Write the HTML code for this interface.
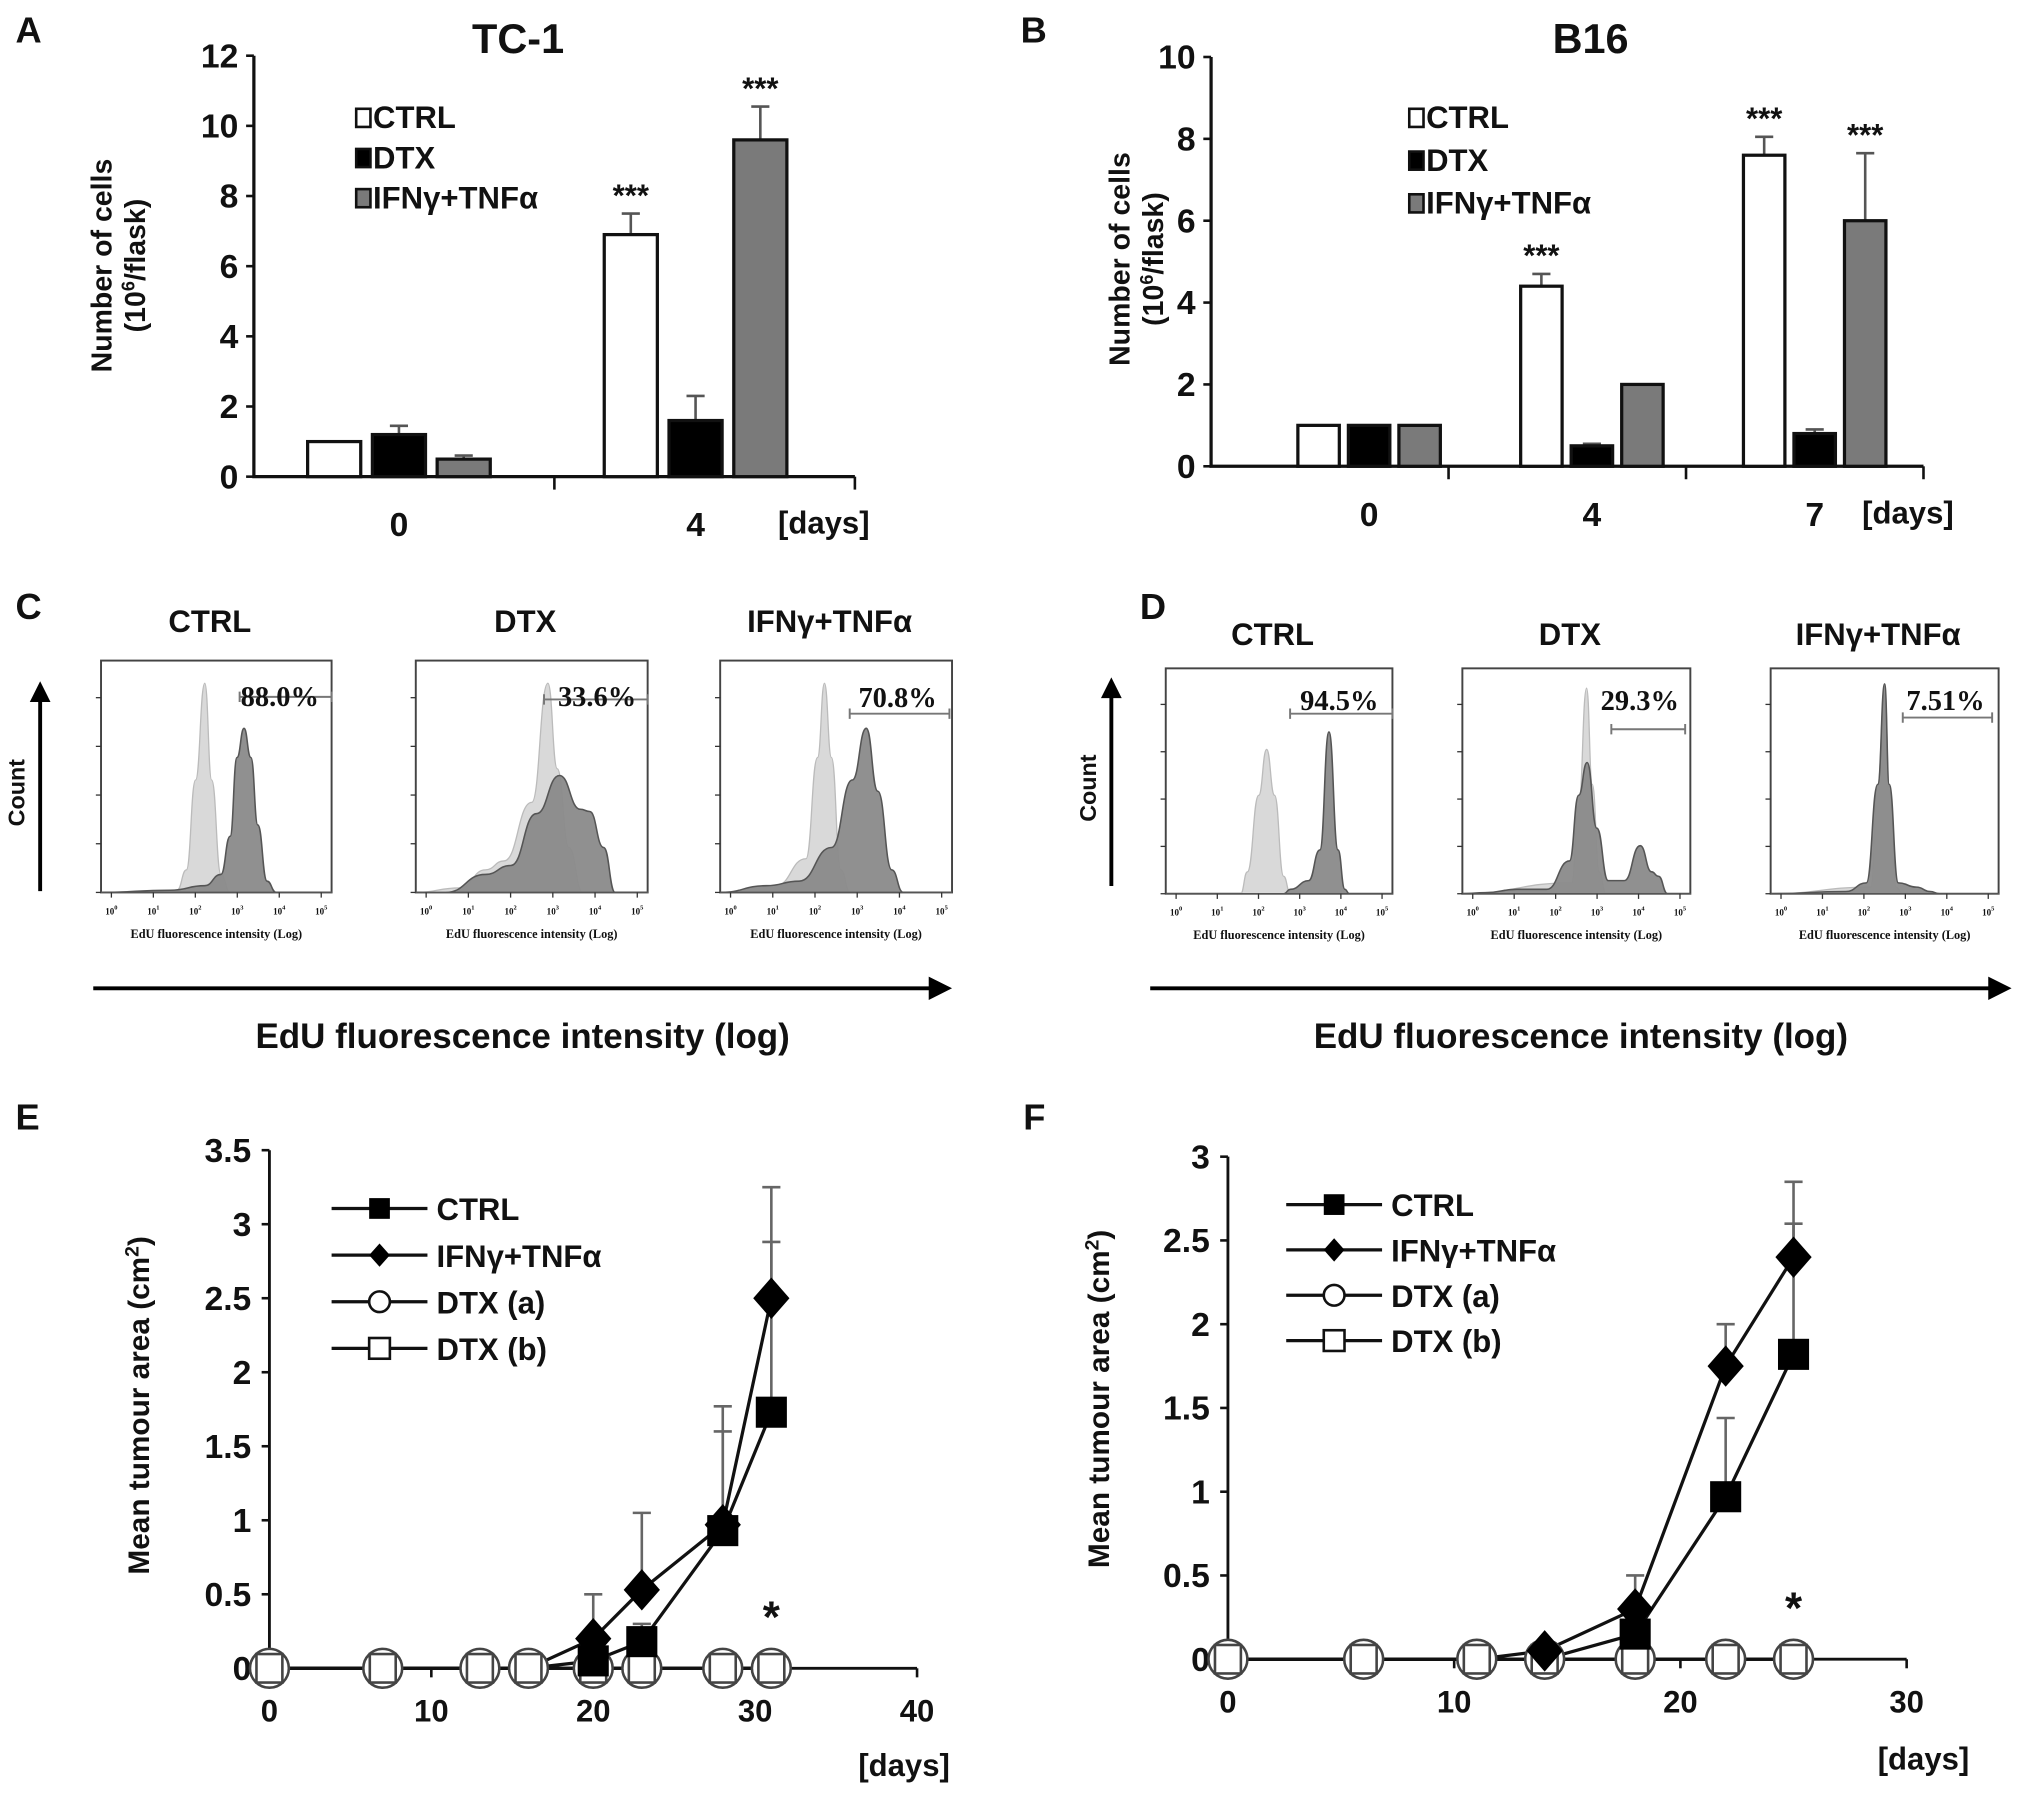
<!DOCTYPE html>
<html><head><meta charset="utf-8"><title>Figure</title>
<style>
html,body{margin:0;padding:0;background:#fff;}
svg{display:block;}
text{font-family:"Liberation Sans Narrow","Liberation Sans",sans-serif;font-weight:bold;fill:#111;}
.serif{font-family:"Liberation Serif",serif;}
.wide{font-family:"Liberation Sans",sans-serif;}
</style></head>
<body>
<svg id="fig" xmlns="http://www.w3.org/2000/svg" width="2031" height="1803" viewBox="0 0 1568 1392" preserveAspectRatio="none">
<rect x="0" y="0" width="1568" height="1392" fill="#fff"/>
<text class="wide" x="12" y="33" font-size="28">A</text>
<text class="wide" x="788" y="33" font-size="28">B</text>
<text class="wide" x="12" y="478" font-size="28">C</text>
<text class="wide" x="880" y="478" font-size="28">D</text>
<text class="wide" x="12" y="872" font-size="28">E</text>
<text class="wide" x="790" y="872" font-size="28">F</text>
<text x="400" y="41" font-size="32" text-anchor="middle">TC-1</text>
<text x="1228" y="41" font-size="32" text-anchor="middle">B16</text>
<g id="gA"></g>
<g id="gB"></g>
<g id="gC"></g>
<g id="gD"></g>
<g id="gE"></g>
<g id="gF"></g>
</svg>
<script>
// ---------- Panel A data ----------
const aDays = ["0", "4"];
const aCtrl = [1.0, 6.9];
const aDtx = [1.2, 1.6];
const aIfn = [0.5, 9.6];
const aCtrlErr = [0.0, 0.6];
const aDtxErr = [0.25, 0.7];
const aIfnErr = [0.1, 0.95];
const aSig = ["", "***"];
const aSigIfn = ["", "***"];
const aTicks = [0, 2, 4, 6, 8, 10, 12];
// ---------- Panel B data ----------
const bDays = ["0", "4", "7"];
const bCtrl = [1.0, 4.4, 7.6];
const bDtx = [1.0, 0.5, 0.8];
const bIfn = [1.0, 2.0, 6.0];
const bCtrlErr = [0.0, 0.3, 0.45];
const bDtxErr = [0.0, 0.05, 0.1];
const bIfnErr = [0.0, 0.0, 1.65];
const bSig = ["", "***", "***"];
const bSigIfn = ["", "", "***"];
const bTicks = [0, 2, 4, 6, 8, 10];
// ---------- Panel E data ----------
const eDays = [0, 7, 13, 16, 20, 23, 28, 31];
const eCtrl = [0, 0, 0, 0, 0.05, 0.18, 0.93, 1.73];
const eCtrlErr = [0, 0, 0, 0, 0, 0.12, 0.67, 1.15];
const eIfn = [0, 0, 0, 0, 0.2, 0.53, 0.97, 2.5];
const eIfnErr = [0, 0, 0, 0, 0.3, 0.52, 0.8, 0.75];
const eDtxA = [0, 0, 0, 0, 0, 0, 0, 0];
const eDtxB = [0, 0, 0, 0, 0, 0, 0, 0];
const eYTicks = [0, 0.5, 1, 1.5, 2, 2.5, 3, 3.5];
const eXTicks = [0, 10, 20, 30, 40];
// ---------- Panel F data ----------
const fDays = [0, 6, 11, 14, 18, 22, 25];
const fCtrl = [0, 0, 0, 0, 0.15, 0.97, 1.82];
const fCtrlErr = [0, 0, 0, 0, 0, 0.47, 0.78];
const fIfn = [0, 0, 0, 0.05, 0.3, 1.75, 2.4];
const fIfnErr = [0, 0, 0, 0, 0.2, 0.25, 0.45];
const fDtxA = [0, 0, 0, 0, 0, 0, 0];
const fDtxB = [0, 0, 0, 0, 0, 0, 0];
const fYTicks = [0, 0.5, 1, 1.5, 2, 2.5, 3];
const fXTicks = [0, 10, 20, 30];
// ---------- Histogram data: [x fraction, height fraction] ----------
const cTitles = ["CTRL", "DTX", "IFNγ+TNFα"];
const cPct = ["88.0%", "33.6%", "70.8%"];
const cLight = [
  [[0,0],[0.33,0.01],[0.37,0.1],[0.41,0.5],[0.45,0.93],[0.48,0.5],[0.52,0.08],[0.56,0]],
  [[0,0],[0.19,0.02],[0.3,0.1],[0.38,0.14],[0.5,0.4],[0.57,0.93],[0.61,0.55],[0.66,0.2],[0.72,0]],
  [[0,0],[0.24,0.03],[0.37,0.15],[0.42,0.6],[0.45,0.93],[0.48,0.6],[0.52,0.1],[0.56,0]]
];
const cDark = [
  [[0,0],[0.3,0.01],[0.45,0.03],[0.52,0.08],[0.56,0.25],[0.59,0.6],[0.62,0.73],[0.65,0.6],[0.68,0.3],[0.72,0.05],[0.76,0]],
  [[0,0],[0.13,0],[0.3,0.08],[0.41,0.12],[0.52,0.35],[0.62,0.52],[0.71,0.37],[0.75,0.36],[0.81,0.2],[0.86,0]],
  [[0,0],[0.2,0.03],[0.34,0.05],[0.48,0.2],[0.57,0.5],[0.63,0.73],[0.68,0.45],[0.74,0.1],[0.79,0]]
];
const dPct = ["94.5%", "29.3%", "7.51%"];
const dLight = [
  [[0,0],[0.33,0],[0.36,0.1],[0.41,0.45],[0.445,0.66],[0.48,0.45],[0.52,0.08],[0.55,0]],
  [[0,0],[0.48,0.05],[0.51,0.4],[0.545,0.94],[0.57,0.5],[0.6,0.1],[0.63,0]],
  [[0,0],[0.44,0.03],[0.47,0.5],[0.5,0.95],[0.52,0.5],[0.55,0.03],[0.58,0]]
];
const dDark = [
  [[0,0],[0.52,0],[0.55,0.02],[0.63,0.06],[0.68,0.2],[0.72,0.74],[0.76,0.2],[0.79,0.02],[0.81,0]],
  [[0,0],[0.1,0.005],[0.24,0.02],[0.37,0.02],[0.47,0.15],[0.51,0.45],[0.547,0.6],[0.59,0.3],[0.64,0.06],[0.71,0.06],[0.78,0.22],[0.83,0.1],[0.86,0.08],[0.9,0]],
  [[0,0],[0.33,0.01],[0.42,0.05],[0.47,0.5],[0.5,0.96],[0.52,0.5],[0.56,0.05],[0.64,0.03],[0.7,0.01],[0.74,0]]
];

const NS = "http://www.w3.org/2000/svg";
function mk(tag, attrs, parent) {
  const el = document.createElementNS(NS, tag);
  for (const k in attrs) el.setAttribute(k, attrs[k]);
  parent.appendChild(el);
  return el;
}
function txt(parent, x, y, s, size, anchor, cls) {
  const t = mk("text", {x: x, y: y, "font-size": size, "text-anchor": anchor || "start"}, parent);
  if (cls) t.setAttribute("class", cls);
  t.textContent = s;
  return t;
}

function barChart(g, cfg) {
  const y = v => cfg.y0 - (v / cfg.ymax) * (cfg.y0 - cfg.ytop);
  const ax = mk("path", {d: `M${cfg.x0} ${cfg.ytop} V${cfg.y0} H${cfg.x1}`, stroke: "#111", "stroke-width": 2.5, fill: "none"}, g);
  
  
  cfg.ticks.forEach(t => {
    const tk = mk("line", {x1: cfg.x0 - 6, x2: cfg.x0, y1: y(t), y2: y(t), stroke: "#111", "stroke-width": 2}, g);
    
    
    const tl = txt(g, cfg.x0 - 12, y(t) + 9, String(t), 26, "end");
    
    
  });
  const n = cfg.days.length;
  for (let i = 1; i <= n; i++) {
    const sx = cfg.x0 + (cfg.x1 - cfg.x0) * i / n;
    const sep = mk("line", {x1: sx, x2: sx, y1: cfg.y0, y2: cfg.y0 + 10, stroke: "#111", "stroke-width": 2}, g);
    
    
  }
  const series = [
    {v: cfg.ctrl, e: cfg.ctrlErr, fill: "#fff", name: "bar-ctrl"},
    {v: cfg.dtx, e: cfg.dtxErr, fill: "#000", name: "bar-dtx"},
    {v: cfg.ifn, e: cfg.ifnErr, fill: "#7a7a7a", name: "bar-ifn-tnf"}
  ];
  cfg.days.forEach((d, i) => {
    const cx = cfg.c0 + i * cfg.step;
    series.forEach((s, k) => {
      const bx = cx + (k - 1) * cfg.off - cfg.bw / 2;
      const top = y(s.v[i]);
      if (s.e[i] > 0) {
        const et = y(s.v[i] + s.e[i]);
        const el = mk("path", {d: `M${bx + cfg.bw / 2} ${top} V${et} M${bx + cfg.bw / 2 - 7} ${et} H${bx + cfg.bw / 2 + 7}`, stroke: "#555", "stroke-width": 2, fill: "none"}, g);
        
        
      }
      const r = mk("rect", {x: bx, y: top, width: cfg.bw, height: cfg.y0 - top, fill: s.fill, stroke: "#111", "stroke-width": 2.5}, g);
      
      
    });
    const sigs = [[cfg.sig[i], 0, cfg.ctrl[i] + cfg.ctrlErr[i]], [cfg.sigIfn[i], 2, cfg.ifn[i] + cfg.ifnErr[i]]];
    sigs.forEach(sg => {
      if (!sg[0]) return;
      const st = txt(g, cx + (sg[1] - 1) * cfg.off, y(sg[2]) - 6, sg[0], 24, "middle", "wide");
      
      
    });
    const dl = txt(g, cx, cfg.y0 + 46, d, 26, "middle");
    
    
  });
  const du = txt(g, cfg.daysX, cfg.y0 + 44, "[days]", 24, "middle");
  
  
  const yl = mk("text", {transform: `translate(${cfg.ylx},${cfg.yly}) rotate(-90)`, "text-anchor": "middle", "font-size": 22, class: "wide"}, g);
  
  
  yl.textContent = "Number of cells";
  const yl2 = mk("text", {transform: `translate(${cfg.ylx + 26},${cfg.yly}) rotate(-90)`, "text-anchor": "middle", "font-size": 22, class: "wide"}, g);
  
  
  yl2.innerHTML = '(10<tspan dy="-8" font-size="14">6</tspan><tspan dy="8">/flask)</tspan>';
  const leg = [["CTRL", "#fff"], ["DTX", "#000"], ["IFNγ+TNFα", "#7a7a7a"]];
  leg.forEach((l, k) => {
    const ly = cfg.legY + k * cfg.legDy;
    const sw = mk("rect", {x: cfg.legX, y: ly - 15, width: 11, height: 14, fill: l[1], stroke: "#111", "stroke-width": 2}, g);
    
    
    const lt = txt(g, cfg.legX + 13, ly, l[0], 24, "start");
    
    
  });
}
barChart(document.getElementById("gA"), {
  x0: 196, x1: 660, y0: 368, ytop: 43, ymax: 12, ticks: aTicks, days: aDays,
  ctrl: aCtrl, dtx: aDtx, ifn: aIfn, ctrlErr: aCtrlErr, dtxErr: aDtxErr, ifnErr: aIfnErr,
  sig: aSig, sigIfn: aSigIfn, c0: 308, step: 229, off: 50, bw: 41, daysX: 636,
  ylx: 86, yly: 205, legX: 275, legY: 99, legDy: 31
});
barChart(document.getElementById("gB"), {
  x0: 935, x1: 1485, y0: 360, ytop: 44, ymax: 10, ticks: bTicks, days: bDays,
  ctrl: bCtrl, dtx: bDtx, ifn: bIfn, ctrlErr: bCtrlErr, dtxErr: bDtxErr, ifnErr: bIfnErr,
  sig: bSig, sigIfn: bSigIfn, c0: 1057, step: 172, off: 39, bw: 32, daysX: 1473,
  ylx: 872, yly: 200, legX: 1088, legY: 99, legDy: 33
});

function histPanel(g, boxes, titles, pcts, lights, darks, gates, pctPos, arrow, titleY) {
  boxes.forEach((b, i) => {
    const X = f => b.x + f * b.w;
    const Y = f => b.y1 - f * (b.y1 - b.y0) * 0.97;
    const tt = txt(g, b.x + b.w / 2 - 5, titleY, titles[i], 24, "middle", "wide");
    
    
    const bx = mk("rect", {x: b.x, y: b.y0, width: b.w, height: b.y1 - b.y0, fill: "#fff", stroke: "#444", "stroke-width": 1.5}, g);
    
    
    const toPath = pts => {
      const P = pts.map(p => [X(p[0]), Y(p[1])]);
      let d = "M" + X(0) + " " + b.y1 + " L" + P[0][0].toFixed(1) + " " + P[0][1].toFixed(1);
      for (let k = 1; k < P.length; k++) {
        const a = P[k - 1], c = P[k];
        const mx = (a[0] + c[0]) / 2;
        d += ` C${mx.toFixed(1)} ${a[1].toFixed(1)} ${mx.toFixed(1)} ${c[1].toFixed(1)} ${c[0].toFixed(1)} ${c[1].toFixed(1)}`;
      }
      return d + " L" + X(1) + " " + b.y1 + " Z";
    };
    const lp = mk("path", {d: toPath(lights[i]), fill: "#d9d9d9", stroke: "#bbb", "stroke-width": 1}, g);
    
    
    const dp = mk("path", {d: toPath(darks[i]), fill: "#8a8a8a", "fill-opacity": 0.95, stroke: "#555", "stroke-width": 1.2}, g);
    
    
    for (let k = 0; k < 6; k++) {
      const tx = b.x + 8 + k * (b.w - 16) / 5;
      const tm = mk("line", {x1: tx, x2: tx, y1: b.y1, y2: b.y1 + 4, stroke: "#333", "stroke-width": 1}, g);
      
      
      const tl = mk("text", {x: tx, y: b.y1 + 17, "font-size": 7, "text-anchor": "middle", class: "serif"}, g);
      
      
      tl.innerHTML = '10<tspan dy="-4" font-size="5">' + k + '</tspan>';
    }
    for (let k = 0; k < 5; k++) {
      const ty = b.y1 - k * (b.y1 - b.y0) * 0.21;
      const ym = mk("line", {x1: b.x - 4, x2: b.x, y1: ty, y2: ty, stroke: "#333", "stroke-width": 1}, g);
      
      
    }
    const al = txt(g, b.x + b.w / 2, b.y1 + 35, "EdU fluorescence intensity (Log)", 9.5, "middle", "serif");
    
    
    const gl = gates[i];
    const gate = mk("path", {d: `M${gl[0]} ${gl[2]} H${gl[1]} M${gl[0]} ${gl[2] - 4} V${gl[2] + 4} M${gl[1]} ${gl[2] - 4} V${gl[2] + 4}`, stroke: "#777", "stroke-width": 1.5, fill: "none"}, g);
    
    
    const pt = txt(g, pctPos[i][0], pctPos[i][1], pcts[i], 22, "middle", "serif");
    
    
  });
  const ca = mk("path", {d: `M${arrow.cx} ${arrow.yb} V${arrow.yt + 14}`, stroke: "#000", "stroke-width": 3}, g);
  
  
  const ch = mk("path", {d: `M${arrow.cx - 8} ${arrow.yt + 16} L${arrow.cx} ${arrow.yt} L${arrow.cx + 8} ${arrow.yt + 16} Z`, fill: "#000"}, g);
  
  
  const ct = mk("text", {transform: `translate(${arrow.cx - 12},${(arrow.yt + arrow.yb) / 2 + 5}) rotate(-90)`, "text-anchor": "middle", "font-size": 18, class: "wide"}, g);
  
  
  ct.textContent = "Count";
  const ea = mk("path", {d: `M${arrow.hx0} ${arrow.hy} H${arrow.hx1 - 16}`, stroke: "#000", "stroke-width": 3}, g);
  
  
  const eh = mk("path", {d: `M${arrow.hx1 - 18} ${arrow.hy - 9} L${arrow.hx1} ${arrow.hy} L${arrow.hx1 - 18} ${arrow.hy + 9} Z`, fill: "#000"}, g);
  
  
  const et = txt(g, (arrow.hx0 + arrow.hx1) / 2, arrow.hy + 46, "EdU fluorescence intensity (log)", 27, "middle", "wide");
  
  
}
histPanel(document.getElementById("gC"),
  [{x: 78, w: 178, y0: 510, y1: 689}, {x: 321, w: 179, y0: 510, y1: 689}, {x: 556, w: 179, y0: 510, y1: 689}],
  cTitles, cPct, cLight, cDark,
  [[185, 256, 538], [420, 500, 540], [656, 733, 551]],
  [[216, 545], [461, 545], [693, 546]],
  {cx: 31, yt: 526, yb: 688, hx0: 72, hx1: 735, hy: 763}, 488);
histPanel(document.getElementById("gD"),
  [{x: 900, w: 175, y0: 516, y1: 690}, {x: 1129, w: 176, y0: 516, y1: 690}, {x: 1367, w: 176, y0: 516, y1: 690}],
  cTitles, dPct, dLight, dDark,
  [[996, 1075, 551], [1244, 1301, 563], [1469, 1538, 554]],
  [[1034, 548], [1266, 548], [1502, 548]],
  {cx: 858, yt: 523, yb: 684, hx0: 888, hx1: 1553, hy: 763}, 498);

function lineChart(g, cfg) {
  const X = v => cfg.x0 + (v - cfg.xmin) / (cfg.xmax - cfg.xmin) * (cfg.x1 - cfg.x0);
  const Y = v => cfg.y0 - v / cfg.ymax * (cfg.y0 - cfg.ytop);
  const ax = mk("path", {d: `M${X(0)} ${Y(cfg.ymax)} V${Y(0)} H${X(cfg.xmax)}`, stroke: "#111", "stroke-width": 2.2, fill: "none"}, g);
  
  
  cfg.yTicks.forEach(t => {
    const tk = mk("line", {x1: X(0) - 6, x2: X(0), y1: Y(t), y2: Y(t), stroke: "#111", "stroke-width": 2}, g);
    
    
    const tl = txt(g, X(0) - 14, Y(t) + 9, String(t), 26, "end");
    
    
  });
  cfg.xTicks.forEach(t => {
    const tk = mk("line", {x1: X(t), x2: X(t), y1: Y(0), y2: Y(0) + 7, stroke: "#111", "stroke-width": 2}, g);
    
    
    const tl = txt(g, X(t), Y(0) + 41, String(t), 24, "middle");
    
    
  });
  const du = txt(g, cfg.daysX, cfg.daysY, "[days]", 24, "middle");
  
  
  const yl = mk("text", {transform: `translate(${cfg.ylx},${cfg.yly}) rotate(-90)`, "text-anchor": "middle", "font-size": 23, class: "wide"}, g);
  
  
  yl.innerHTML = 'Mean tumour area (cm<tspan dy="-8" font-size="15">2</tspan><tspan dy="8">)</tspan>';
  const line = (vals, name) => {
    const p = mk("polyline", {points: cfg.days.map((d, i) => X(d) + "," + Y(vals[i])).join(" "), fill: "none", stroke: "#111", "stroke-width": 2.5}, g);
    
    
  };
  const errs = (vals, e, name) => {
    cfg.days.forEach((d, i) => {
      if (e[i] <= 0) return;
      const el = mk("path", {d: `M${X(d)} ${Y(vals[i])} V${Y(vals[i] + e[i])} M${X(d) - 7} ${Y(vals[i] + e[i])} H${X(d) + 7}`, stroke: "#666", "stroke-width": 2, fill: "none"}, g);
      
      
    });
  };
  line(cfg.dtxA, "line-dtx-a");
  line(cfg.dtxB, "line-dtx-b");
  line(cfg.ctrl, "line-ctrl");
  line(cfg.ifn, "line-ifn-tnf");
  errs(cfg.ctrl, cfg.ctrlErr, "error-bar-ctrl");
  errs(cfg.ifn, cfg.ifnErr, "error-bar-ifn-tnf");
  cfg.days.forEach((d, i) => {
    const c = mk("circle", {cx: X(d), cy: Y(cfg.dtxA[i]), r: 15, fill: "#fff", stroke: "#444", "stroke-width": 2}, g);
    
    
    const s = mk("rect", {x: X(d) - 10, y: Y(cfg.dtxB[i]) - 11, width: 20, height: 22, fill: "none", stroke: "#444", "stroke-width": 2}, g);
    
    
  });
  cfg.days.forEach((d, i) => {
    if (cfg.ctrl[i] > 0) {
      const r = mk("rect", {x: X(d) - 12, y: Y(cfg.ctrl[i]) - 12, width: 24, height: 24, fill: "#000"}, g);
      
      
    }
    if (cfg.ifn[i] > 0) {
      const cx = X(d), cy = Y(cfg.ifn[i]);
      const dm = mk("path", {d: `M${cx} ${cy - 16} L${cx + 14} ${cy} L${cx} ${cy + 16} L${cx - 14} ${cy} Z`, fill: "#000"}, g);
      
      
    }
  });
  const st = txt(g, X(cfg.starDay), Y(0) - 28, "*", 34, "middle", "wide");
  
  
  const lx = cfg.legX, names = ["CTRL", "IFNγ+TNFα", "DTX (a)", "DTX (b)"];
  names.forEach((nm, k) => {
    const ly = cfg.legY + k * cfg.legDy;
    const ll = mk("line", {x1: lx, x2: lx + 74, y1: ly, y2: ly, stroke: "#111", "stroke-width": 2.5}, g);
    
    
    const mx = lx + 37;
    let m;
    if (k === 0) m = mk("rect", {x: mx - 8, y: ly - 8, width: 16, height: 16, fill: "#000"}, g);
    else if (k === 1) m = mk("path", {d: `M${mx} ${ly - 9} L${mx + 8} ${ly} L${mx} ${ly + 9} L${mx - 8} ${ly} Z`, fill: "#000"}, g);
    else if (k === 2) m = mk("circle", {cx: mx, cy: ly, r: 8, fill: "#fff", stroke: "#111", "stroke-width": 2}, g);
    else m = mk("rect", {x: mx - 8, y: ly - 8, width: 16, height: 16, fill: "#fff", stroke: "#111", "stroke-width": 2}, g);
    
    
    const lt = txt(g, lx + 81, ly + 9, nm, 24, "start");
    
    
  });
}
lineChart(document.getElementById("gE"), {
  x0: 208, x1: 708, xmin: 0, xmax: 40, y0: 1288, ytop: 888, ymax: 3.5,
  days: eDays, ctrl: eCtrl, ctrlErr: eCtrlErr, ifn: eIfn, ifnErr: eIfnErr, dtxA: eDtxA, dtxB: eDtxB,
  yTicks: eYTicks, xTicks: eXTicks, daysX: 698, daysY: 1371, ylx: 115, yly: 1085,
  legX: 256, legY: 933, legDy: 36, starDay: 31
});
lineChart(document.getElementById("gF"), {
  x0: 948, x1: 1472, xmin: 0, xmax: 30, y0: 1281, ytop: 893, ymax: 3,
  days: fDays, ctrl: fCtrl, ctrlErr: fCtrlErr, ifn: fIfn, ifnErr: fIfnErr, dtxA: fDtxA, dtxB: fDtxB,
  yTicks: fYTicks, xTicks: fXTicks, daysX: 1485, daysY: 1366, ylx: 856, yly: 1080,
  legX: 993, legY: 930, legDy: 35, starDay: 25
});
</script>
</body></html>
